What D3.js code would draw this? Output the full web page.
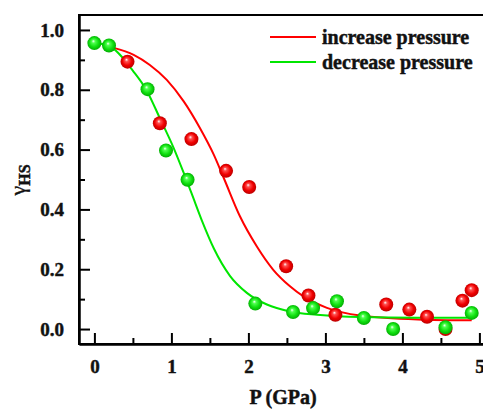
<!DOCTYPE html>
<html>
<head>
<meta charset="utf-8">
<script src="https://cdn.jsdelivr.net/npm/d3@7"></script>
<style>
  body { margin: 0; background: #fff; }
  text { font-family: "Liberation Serif", "Times New Roman", serif; font-weight: bold; fill: #111; stroke: #111; stroke-width: 0.45px; }
</style>
</head>
<body>
<div id="chart"></div>
<script>
// measured points (P in GPa, gamma_HS)
var incP     = [0.43, 0.85, 1.26, 1.71, 2.01, 2.49, 2.78, 3.13, 3.79, 4.09, 4.32, 4.56, 4.78, 4.90];
var incGamma = [0.894, 0.688, 0.635, 0.529, 0.475, 0.21, 0.112, 0.048, 0.082, 0.065, 0.041, 0.0, 0.095, 0.13];

var decP     = [0.0, 0.19, 0.69, 0.93, 1.21, 2.09, 2.58, 2.84, 3.15, 3.5, 3.88, 4.56, 4.90];
var decGamma = [0.956, 0.948, 0.802, 0.597, 0.499, 0.085, 0.057, 0.07, 0.093, 0.037, 0.0, 0.006, 0.054];

// fitted curves
var incFitP     = [0.25, 0.51, 0.72, 0.94, 1.16, 1.37, 1.55, 1.68, 1.89, 2.11, 2.32, 2.54, 2.71, 3.02, 3.45, 4.2, 4.9];
var incFitGamma = [0.94, 0.917, 0.883, 0.833, 0.761, 0.672, 0.583, 0.505, 0.377, 0.276, 0.199, 0.143, 0.11, 0.071, 0.045, 0.032, 0.029];

var decFitP     = [0.0, 0.2, 0.51, 0.68, 0.85, 1.03, 1.16, 1.26, 1.4, 1.55, 1.76, 1.98, 2.24, 2.54, 2.89, 3.45, 4.2, 4.9];
var decFitGamma = [0.957, 0.945, 0.86, 0.797, 0.705, 0.605, 0.522, 0.455, 0.36, 0.27, 0.178, 0.121, 0.082, 0.059, 0.048, 0.04, 0.038, 0.038];

var xTicks = [0, 1, 2, 3, 4, 5];
var xMinor = [0.5, 1.5, 2.5, 3.5, 4.5];
var yTicks = [0.0, 0.2, 0.4, 0.6, 0.8, 1.0];
var yMinor = [0.1, 0.3, 0.5, 0.7, 0.9];

var legendLabels = ['increase pressure', 'decrease pressure'];

function drawChart() {
    var width = 483, height = 412;
    var mLeft = 79, mTop = 15, mBottom = 344, mRight = 494.8;

    var svg = d3.select('#chart').append('svg')
        .attr('width', width)
        .attr('height', height);

    var x = d3.scaleLinear().domain([-0.2, 5.2]).range([mLeft, mRight]);
    var y = d3.scaleLinear().domain([-0.05, 1.05]).range([mBottom, mTop]);

    // sphere gradients
    var defs = svg.append('defs');
    function ballGradient(id, light, mid, dark) {
        var g = defs.append('radialGradient')
            .attr('id', id)
            .attr('cx', '50%').attr('cy', '50%').attr('r', '55%')
            .attr('fx', '42%').attr('fy', '35%');
        g.append('stop').attr('offset', '0%').attr('stop-color', '#ffffff');
        g.append('stop').attr('offset', '22%').attr('stop-color', light);
        g.append('stop').attr('offset', '60%').attr('stop-color', mid);
        g.append('stop').attr('offset', '100%').attr('stop-color', dark);
    }
    ballGradient('redBall', '#ff5050', '#f00000', '#b00000');
    ballGradient('greenBall', '#50ff50', '#10e010', '#00a000');

    // frame
    svg.append('rect')
        .attr('x', mLeft).attr('y', mTop)
        .attr('width', mRight - mLeft).attr('height', mBottom - mTop)
        .attr('fill', 'none')
        .attr('stroke', '#000')
        .attr('stroke-width', 2);

    // axes
    svg.append('g')
        .attr('transform', 'translate(0,' + mBottom + ')')
        .call(d3.axisBottom(x).tickValues(xTicks).tickSize(-11).tickSizeOuter(0).tickPadding(16).tickFormat(d3.format('d')));
    svg.append('g')
        .attr('transform', 'translate(0,' + mBottom + ')')
        .call(d3.axisBottom(x).tickValues(xMinor).tickSize(-6).tickSizeOuter(0).tickFormat(''));

    svg.append('g')
        .attr('transform', 'translate(' + mLeft + ',0)')
        .call(d3.axisLeft(y).tickValues(yTicks).tickSize(-11).tickSizeOuter(0).tickPadding(15).tickFormat(d3.format('.1f')));
    svg.append('g')
        .attr('transform', 'translate(' + mLeft + ',0)')
        .call(d3.axisLeft(y).tickValues(yMinor).tickSize(-6).tickSizeOuter(0).tickFormat(''));

    svg.selectAll('.domain').attr('stroke', '#000').attr('stroke-width', 2);
    svg.selectAll('.tick line').attr('stroke', '#000').attr('stroke-width', 2);
    svg.selectAll('.tick text')
        .style('font-family', '"Liberation Serif", serif')
        .style('font-weight', 'bold')
        .style('font-size', '19px')
        .attr('fill', '#111');

    // axis titles
    svg.append('text')
        .attr('x', 283).attr('y', 404)
        .attr('text-anchor', 'middle')
        .style('font-size', '20px')
        .text('P (GPa)');

    var yTitle = svg.append('text')
        .attr('transform', 'translate(25,180) rotate(-90)')
        .attr('text-anchor', 'middle');
    yTitle.append('tspan').style('font-size', '22px').style('font-weight', 'normal').style('stroke-width', '0.3px').text('γ');
    yTitle.append('tspan').attr('dy', 5).style('font-size', '16px').text('HS');

    // fitted curves
    var line = d3.line()
        .x(d => x(d[0]))
        .y(d => y(d[1]))
        .curve(d3.curveMonotoneX);

    svg.append('path')
        .datum(d3.zip(incFitP, incFitGamma))
        .attr('d', line)
        .attr('fill', 'none')
        .attr('stroke', '#ff0000')
        .attr('stroke-width', 2);

    svg.append('path')
        .datum(d3.zip(decFitP, decFitGamma))
        .attr('d', line)
        .attr('fill', 'none')
        .attr('stroke', '#00e600')
        .attr('stroke-width', 2);

    // measured points
    svg.append('g').selectAll('circle')
        .data(d3.zip(incP, incGamma))
        .enter()
        .append('circle')
        .attr('cx', d => x(d[0]))
        .attr('cy', d => y(d[1]))
        .attr('r', 7)
        .attr('fill', 'url(#redBall)');

    svg.append('g').selectAll('circle')
        .data(d3.zip(decP, decGamma))
        .enter()
        .append('circle')
        .attr('cx', d => x(d[0]))
        .attr('cy', d => y(d[1]))
        .attr('r', 7)
        .attr('fill', 'url(#greenBall)');

    // legend
    var legendColors = ['#ff0000', '#00e600'];
    var legend = svg.append('g');
    legendLabels.forEach(function (label, i) {
        var ly = 37 + i * 25;
        legend.append('line')
            .attr('x1', 270).attr('x2', 316)
            .attr('y1', ly).attr('y2', ly)
            .attr('stroke', legendColors[i])
            .attr('stroke-width', 2);
        legend.append('text')
            .attr('x', 322).attr('y', ly + 7)
            .style('font-size', '20px')
            .text(label);
    });
}

drawChart();
</script>
</body>
</html>
